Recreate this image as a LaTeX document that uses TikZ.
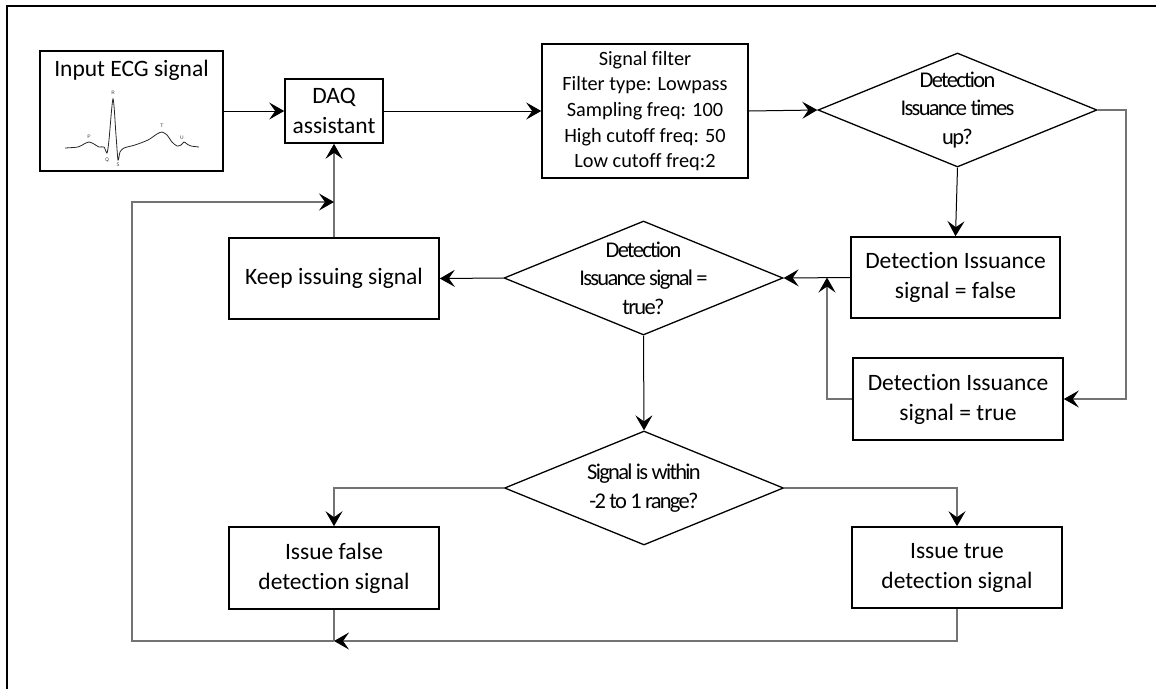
\documentclass[tikz,border=0pt]{standalone}
\usepackage{fontspec}
\setmainfont[RawFeature=-liga]{Carlito}
\newfontfamily\tightfont[LetterSpace=-7.5,RawFeature=-liga]{Carlito}
\usetikzlibrary{shapes.geometric,arrows.meta}

\tikzset{
  box/.style={draw=black, line width=1.6pt, fill=white, minimum width=#1, inner sep=0pt, align=center,
              font=\fontsize{23.5}{30}\selectfont},
  decision/.style={draw=black, line width=1.3pt, shape=diamond, inner sep=0pt,
                   minimum width=279pt, minimum height=114pt},
  dtext/.style={align=center, inner sep=0pt, font=\tightfont\fontsize{22.5}{28.5}\selectfont},
  tip/.style={-{Stealth[length=15pt,width=17pt,inset=6pt,color=black]}},
  link/.style={draw=black, line width=1pt},
  glink/.style={draw=black!55, line width=1.2pt},
  wave/.style={draw=black!85, line width=0.8pt},
  wlabel/.style={font=\sffamily\fontsize{5}{6}\selectfont, inner sep=0pt, text=black!80}
}

\begin{document}
\begin{tikzpicture}[x=1pt, y=-1pt]
  \useasboundingbox (0,0) rectangle (1156,689);

  % page frame (top and left edges)
  \draw[line width=1.8pt] (7,689) -- (7,6) -- (1156,6);

  % input block with an ECG trace
  \node[box, minimum width=183pt, minimum height=120pt] (ecg) at (131.5,111) {};
  \node[inner sep=0pt, font=\fontsize{23.5}{30}\selectfont] (ecgtitle) at (131.5,70) {Input ECG signal};
  \draw[wave] plot[smooth, tension=0.45] coordinates {
    (65,148) (78,147) (84,144) (89,142) (94,144) (99,147) (104,147)
    (107,153) (109,140) (113,99) (116,135) (118,160) (120,152) (124,148)
    (135,145) (148,140) (157,134) (162,132) (167,135) (172,142) (177,146)
    (181,145) (184,142) (187,144) (191,146) (199,147)};
  \node[wlabel] (lp) at (89,137) {P};
  \node[wlabel] (lr) at (113,93) {R};
  \node[wlabel] (lq) at (107,160) {Q};
  \node[wlabel] (ls) at (118,165) {S};
  \node[wlabel] (lt) at (162,126) {T};
  \node[wlabel] (lu) at (182,138) {U};

  % processing blocks
  \node[box, minimum width=98pt, minimum height=64pt] (daq) at (334,111) {DAQ\\assistant};
  \node[box, minimum width=206pt, minimum height=134pt,
        font=\fontsize{20.3}{25.7}\selectfont] (filt) at (645,111)
        {Signal filter\\Filter type: Lowpass\\Sampling freq: 100\\High cutoff freq: 50\\Low cutoff freq:2};

  % decisions
  \node[decision] (d1) at (957.5,110) {};
  \node[dtext] (d1t) at (d1.center) {Detection\\Issuance times\\up?};
  \node[decision] (d2) at (643.5,278) {};
  \node[dtext] (d2t) at (d2.center) {Detection\\Issuance signal =\\true?};
  \node[decision] (d3) at (644,488) {};
  \node[dtext] (d3t) at (d3.center) {Signal is within\\-2 to 1 range?};

  % status and output blocks
  \node[box, minimum width=209pt, minimum height=81pt] (dfalse) at (955.5,277.5) {Detection Issuance\\signal = false};
  \node[box, minimum width=210pt, minimum height=82pt] (dtrue) at (958,399) {Detection Issuance\\signal = true};
  \node[box, minimum width=210pt, minimum height=81pt] (keep) at (334,278.5) {Keep issuing signal};
  \node[box, minimum width=210pt, minimum height=82pt] (ifalse) at (334,568) {Issue false\\detection signal};
  \node[box, minimum width=210pt, minimum height=81pt] (itrue) at (957,567.5) {Issue true\\detection signal};

  % routing points
  \coordinate (rt) at (1126,110);
  \coordinate (jn) at (827,277.5);
  \coordinate (bj) at (334,641);
  \coordinate (bl) at (132,641);
  \coordinate (fj) at (334,202);

  % connectors
  \draw[link, tip] (ecg.east) -- (daq.west);
  \draw[link, tip] (daq.east) -- (filt.west);
  \draw[link, tip] (filt.east) -- (d1.west);
  \draw[link, tip] (d1.south) -- (dfalse.north);
  \draw[glink, tip] (d1.east) -- (rt) |- (dtrue.east);
  \draw[glink, tip] (dtrue.west) -| (jn);
  \draw[link, tip] (dfalse.west) -- (d2.east);
  \draw[link, tip] (d2.west) -- (keep.east);
  \draw[glink, tip] (keep.north) -- (daq.south);
  \draw[link, tip] (d2.south) -- (d3.north);
  \draw[glink, tip] (d3.west) -| (ifalse.north);
  \draw[glink, tip] (d3.east) -| (itrue.north);
  \draw[glink] (ifalse.south) -- (bj);
  \draw[glink, tip] (itrue.south) |- (bj);
  \draw[glink, tip] (bj) -- (bl) |- (fj);
\end{tikzpicture}
\end{document}
